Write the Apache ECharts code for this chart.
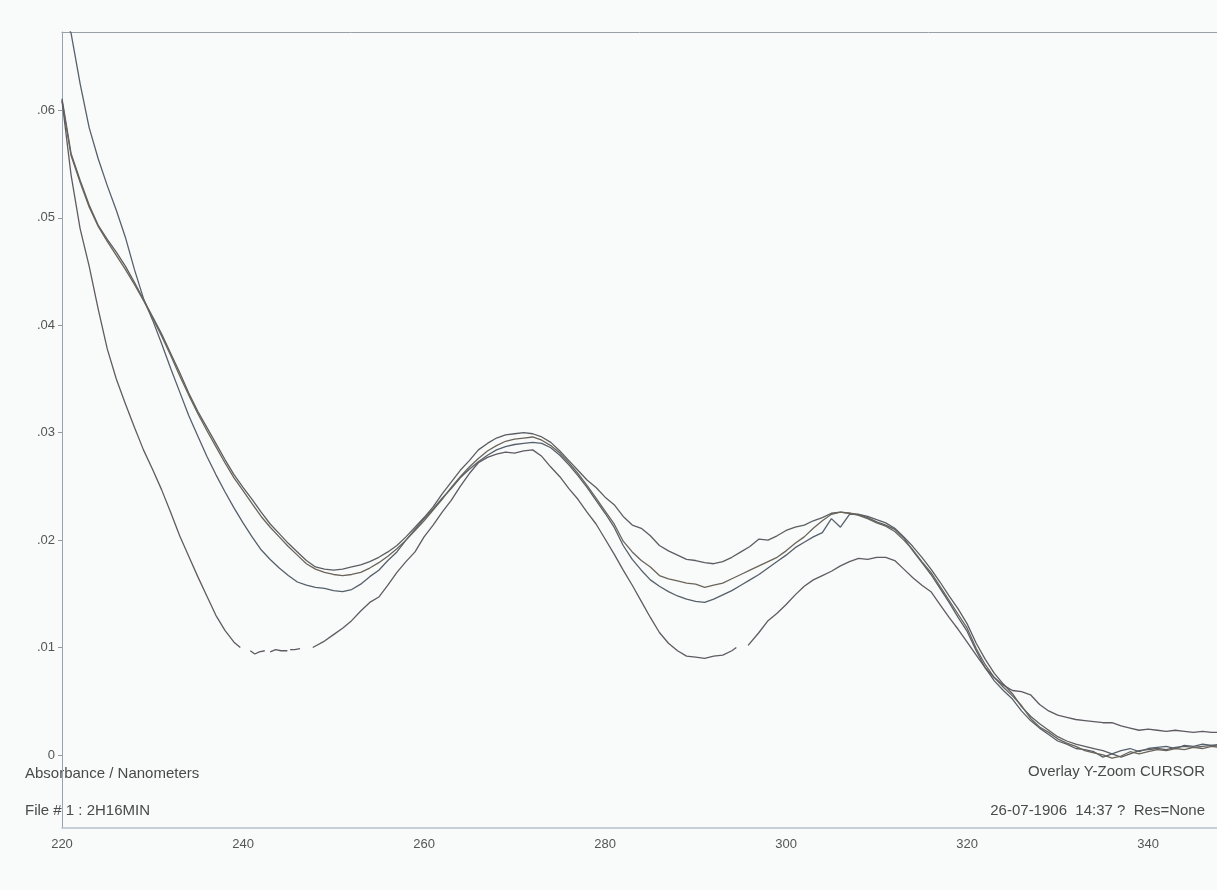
<!DOCTYPE html>
<html>
<head>
<meta charset="utf-8">
<script src="https://cdn.jsdelivr.net/npm/echarts@6/dist/echarts.min.js"></script>
<style>
html,body{margin:0;padding:0;background:#f9fafa;}
#chart{width:1217px;height:890px;}
</style>
</head>
<body>
<div id="chart"></div>
<script>
// Wavelength grid (nm) shared by curves A, B, C
const wavelengths = [
  220,221,222,223,224,225,226,227,228,229,
  230,231,232,233,234,235,236,237,238,239,
  240,241,242,243,244,245,246,247,248,249,
  250,251,252,253,254,255,256,257,258,259,
  260,261,262,263,264,265,266,267,268,269,
  270,271,272,273,274,275,276,277,278,279,
  280,281,282,283,284,285,286,287,288,289,
  290,291,292,293,294,295,296,297,298,299,
  300,301,302,303,304,305,306,307,308,309,
  310,311,312,313,314,315,316,317,318,319,
  320,321,322,323,324,325,326,327,328,329,
  330,331,332,333,334,335,336,337,338,339,
  340,341,342,343,344,345,346,347,348
];

// Curve A (steepest at left, clipped at top)
const absA = [
  .0690,.0672,.0625,.0584,.0555,.0530,.0507,.0482,.0452,.0425,
  .0405,.0383,.0360,.0338,.0316,.0297,.0278,.0261,.0245,.0230,
  .0216,.0203,.0191,.0182,.0174,.0167,.0161,.0158,.0156,.0155,
  .0153,.0152,.0154,.0159,.0166,.0172,.0181,.0189,.0200,.0210,
  .0220,.0229,.0239,.0248,.0258,.0266,.0273,.0279,.0284,.0287,
  .0289,.0290,.0291,.0290,.0286,.0279,.0270,.0260,.0249,.0237,
  .0225,.0212,.0195,.0182,.0172,.0163,.0157,.0152,.0148,.0145,
  .0143,.0142,.0145,.0149,.0153,.0158,.0163,.0168,.0174,.0180,
  .0186,.0193,.0198,.0203,.0207,.0220,.0212,.0224,.0224,.0221,
  .0217,.0214,.0210,.0202,.0190,.0179,.0168,.0155,.0142,.0128,
  .0115,.0097,.0081,.0069,.0060,.0052,.0041,.0032,.0025,.0019,
  .0013,.0010,.0006,.0005,.0003,-.0002,.0001,.0004,.0006,.0003,
  .0006,.0007,.0008,.0006,.0009,.0008,.0010,.0009,.0010
];

// Curve B (upper curve in both troughs)
const absB = [
  .0611,.0560,.0535,.0512,.0493,.0480,.0468,.0455,.0440,.0424,
  .0408,.0392,.0374,.0356,.0337,.0320,.0305,.0290,.0275,.0261,
  .0249,.0238,.0226,.0215,.0206,.0197,.0189,.0181,.0175,.0173,
  .0172,.0173,.0175,.0177,.0180,.0184,.0189,.0195,.0203,.0212,
  .0221,.0231,.0243,.0254,.0265,.0274,.0284,.0290,.0295,.0298,
  .0299,.0300,.0299,.0296,.0291,.0283,.0274,.0265,.0256,.0249,
  .0240,.0233,.0222,.0214,.0211,.0204,.0195,.0190,.0186,.0182,
  .0181,.0179,.0178,.0180,.0184,.0189,.0194,.0201,.0200,.0204,
  .0209,.0212,.0214,.0218,.0221,.0225,.0226,.0225,.0224,.0222,
  .0219,.0216,.0211,.0203,.0194,.0184,.0173,.0161,.0148,.0136,
  .0122,.0104,.0089,.0076,.0066,.0057,.0045,.0036,.0029,.0023,
  .0017,.0013,.0010,.0008,.0006,.0004,.0001,-.0002,.0001,.0004,
  .0005,.0006,.0005,.0007,.0008,.0007,.0008,.0009,.0008
];

// Curve C (middle curve)
const absC = [
  .0609,.0558,.0533,.0510,.0492,.0478,.0465,.0452,.0438,.0423,
  .0407,.0390,.0372,.0353,.0335,.0318,.0302,.0287,.0272,.0258,
  .0246,.0234,.0222,.0212,.0203,.0194,.0186,.0178,.0173,.0170,
  .0168,.0167,.0168,.0170,.0174,.0179,.0185,.0192,.0200,.0209,
  .0218,.0228,.0238,.0249,.0259,.0268,.0276,.0283,.0288,.0292,
  .0294,.0295,.0296,.0293,.0288,.0281,.0272,.0262,.0251,.0239,
  .0227,.0215,.0199,.0189,.0181,.0175,.0167,.0164,.0162,.0160,
  .0159,.0156,.0158,.0160,.0164,.0168,.0172,.0176,.0180,.0184,
  .0190,.0197,.0203,.0211,.0218,.0224,.0226,.0225,.0223,.0220,
  .0216,.0213,.0208,.0200,.0191,.0180,.0170,.0157,.0144,.0131,
  .0118,.0099,.0084,.0072,.0063,.0055,.0046,.0034,.0026,.0021,
  .0015,.0011,.0008,.0004,.0002,.0000,-.0003,-.0001,.0003,.0001,
  .0003,.0005,.0004,.0006,.0005,.0007,.0006,.0008,.0007
];

// Curve D (lowest in troughs, broken where the trace drops out)
const wavelengthsD = [
  220,221,222,223,224,225,226,227,228,229,230,231,232,233,234,235,236,237,238,239,
  239.7,240.3,240.8,241.3,241.8,242.4,242.7,243.0,243.6,244.2,244.9,245.05,245.2,245.7,246.3,247.0,247.7,
  249,250,251,252,253,254,255,256,257,258,259,260,261,262,263,264,265,266,267,268,269,
  270,271,272,273,274,275,276,277,278,279,280,281,282,283,284,285,286,287,288,289,
  290,291,292,293,294,
  294.5,295.2,295.8,
  297,298,299,300,301,302,303,304,305,306,307,308,309,310,311,312,313,314,315,316,317,318,319,
  320,321,322,323,324,325,326,327,328,329,330,331,332,333,334,335,336,337,338,339,
  340,341,342,343,344,345,346,347,348
];
const absD = [
  .0609,.0540,.0490,.0455,.0415,.0378,.0350,.0327,.0305,.0284,.0266,.0247,.0226,.0204,.0185,.0166,.0148,.0130,.0116,.0105,
  .0100,null,.0097,.0094,.0096,.0097,null,.0096,.0098,.0097,.0097,null,.0098,.0098,.0099,null,.0100,
  .0106,.0112,.0118,.0125,.0134,.0142,.0147,.0158,.0170,.0180,.0189,.0203,.0214,.0226,.0237,.0250,.0262,.0272,.0277,.0280,.0282,
  .0281,.0283,.0284,.0278,.0268,.0259,.0248,.0238,.0226,.0215,.0201,.0187,.0172,.0158,.0143,.0128,.0114,.0104,.0097,.0092,
  .0091,.0090,.0092,.0093,.0097,
  .0100,null,.0102,
  .0114,.0125,.0132,.0140,.0149,.0157,.0163,.0167,.0171,.0176,.0180,.0183,.0182,.0184,.0184,.0181,.0173,.0165,.0158,.0152,.0140,.0128,.0117,
  .0105,.0093,.0081,.0072,.0065,.0060,.0059,.0056,.0047,.0041,.0037,.0035,.0033,.0032,.0031,.0030,.0030,.0027,.0025,.0023,
  .0024,.0023,.0022,.0023,.0022,.0021,.0022,.0021,.0021
];

// Axis ticks
const xTicks = [220, 240, 260, 280, 300, 320, 340];
const yTicks = [0, .01, .02, .03, .04, .05, .06];
const yTickLabels = ['0', '.01', '.02', '.03', '.04', '.05', '.06'];

// Annotation texts
const leftNotes = ['Absorbance / Nanometers', 'File # 1 : 2H16MIN'];
const rightNotes = ['Overlay Y-Zoom CURSOR', '26-07-1906  14:37 ?  Res=None'];

const FONT = "'Liberation Sans', Arial, sans-serif";
const pair = (xs, ys) => xs.map((x, i) => [x, ys[i]]);

const curves = [
  { name: 'A', x: wavelengths, y: absA, color: '#56606b' },
  { name: 'B', x: wavelengths, y: absB, color: '#5b5e62' },
  { name: 'C', x: wavelengths, y: absC, color: '#6a6459' },
  { name: 'D', x: wavelengthsD, y: absD, color: '#605a62' }
];

const chart = echarts.init(document.getElementById('chart'), null, { renderer: 'canvas' });
chart.setOption({
  animation: false,
  backgroundColor: '#f9fafa',
  grid: { left: 62, right: 0, top: 32, bottom: 62, containLabel: false },
  xAxis: [
    {
      type: 'value', min: 220, max: 347.6, splitNumber: 6,
      axisLine: { show: true, onZero: false, lineStyle: { color: '#b7c2c9', width: 1.5 } },
      axisTick: { show: false },
      splitLine: { show: false },
      axisLabel: {
        customValues: xTicks,
        color: '#555', fontSize: 13, margin: 10, fontFamily: FONT,
        formatter: v => String(v)
      }
    },
    {
      type: 'value', min: 220, max: 347.6, position: 'top',
      axisLine: { show: true, onZero: false, lineStyle: { color: '#9aa1a6', width: 1 } },
      axisTick: { show: false }, axisLabel: { show: false }, splitLine: { show: false }
    }
  ],
  yAxis: {
    type: 'value', min: -0.0068, max: 0.0673, splitNumber: 7,
    axisLine: { show: true, onZero: false, lineStyle: { color: '#9aa3a8', width: 1 } },
    axisTick: { show: true, customValues: yTicks, length: 4, lineStyle: { color: '#999' } },
    splitLine: { show: false },
    axisLabel: {
      customValues: yTicks,
      color: '#555', fontSize: 13, margin: 7, fontFamily: FONT,
      formatter: v => {
        const i = yTicks.findIndex(t => Math.abs(t - v) < 1e-9);
        return i >= 0 ? yTickLabels[i] : '';
      }
    }
  },
  graphic: [
    { type: 'text', left: 25, top: 766, style: { text: leftNotes[0], fill: '#4a4a4a', font: '15px ' + FONT } },
    { type: 'text', left: 25, top: 803, style: { text: leftNotes[1], fill: '#4a4a4a', font: '15px ' + FONT } },
    { type: 'text', right: 12, top: 764, style: { text: rightNotes[0], fill: '#4a4a4a', font: '15px ' + FONT } },
    { type: 'text', right: 12, top: 803, style: { text: rightNotes[1], fill: '#4a4a4a', font: '15px ' + FONT } }
  ],
  series: curves.map(c => ({
    name: c.name,
    type: 'line',
    data: pair(c.x, c.y),
    showSymbol: false,
    symbol: 'none',
    connectNulls: false,
    clip: true,
    lineStyle: { color: c.color, width: 1.3 },
    emphasis: { disabled: true }
  }))
});
</script>
</body>
</html>
